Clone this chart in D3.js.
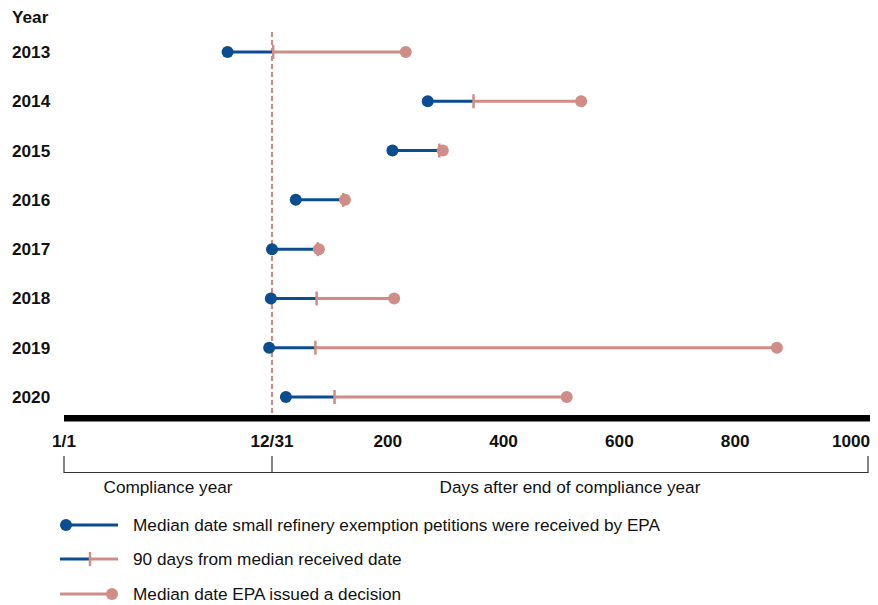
<!DOCTYPE html>
<html>
<head>
<meta charset="utf-8">
<script src="https://d3js.org/d3.v7.min.js"></script>
<style>
  body { margin: 0; background: #fff; }
  text { font-family: "Liberation Sans", Arial, sans-serif; fill: #111; }
</style>
</head>
<body>
<svg id="chart"></svg>
<script>
// Values in days relative to end of compliance year (12/31 = 0)
const years = ["2013", "2014", "2015", "2016", "2017", "2018", "2019", "2020"];
const received = [-78, 269, 208, 41, 0, -2, -5, 24];
const ninetyDays = [2, 348, 289, 123, 79, 77, 75, 108];
const decision = [231, 534, 295, 126, 81, 211, 872, 509];

const tickValues = [-365, 0, 200, 400, 600, 800, 1000];
const tickLabels = ["1/1", "12/31", "200", "400", "600", "800", "1000"];

const legendLabels = [
    "Median date small refinery exemption petitions were received by EPA",
    "90 days from median received date",
    "Median date EPA issued a decision"
];

const blue = "#0b4d8f";
const pink = "#d08c86";
const fs = 17.2;

const width = 878, height = 605;
const svg = d3.select("#chart").attr("width", width).attr("height", height);

// compliance year is drawn a bit narrower than days after
const x = d3.scaleLinear()
    .domain([-365, 0, 1000])
    .range([64, 272, 851]);

const y = d3.scalePoint()
    .domain(years)
    .range([52, 397]);

// Year column
svg.append("text")
    .attr("x", 12).attr("y", 23)
    .attr("font-size", fs).attr("font-weight", "bold")
    .text("Year");

svg.append("g").selectAll("text")
    .data(years)
    .enter().append("text")
    .attr("x", 12)
    .attr("y", d => y(d) + 6)
    .attr("font-size", fs).attr("font-weight", "bold")
    .text(d => d);

// dashed line at end of compliance year
svg.append("line")
    .attr("x1", x(0)).attr("x2", x(0))
    .attr("y1", 32).attr("y2", 415)
    .attr("stroke", pink).attr("stroke-width", 2.2)
    .attr("stroke-dasharray", "5,3");

const rows = years.map((yr, i) => ({
    year: yr, rec: received[i], tick: ninetyDays[i], dec: decision[i]
}));

const g = svg.append("g");

// pink segment: 90 days mark -> decision
g.selectAll(".pinkline")
    .data(rows)
    .enter().append("line")
    .attr("x1", d => x(d.tick)).attr("x2", d => x(d.dec))
    .attr("y1", d => y(d.year)).attr("y2", d => y(d.year))
    .attr("stroke", pink).attr("stroke-width", 3);

// blue segment: received -> 90 days
g.selectAll(".blueline")
    .data(rows)
    .enter().append("line")
    .attr("x1", d => x(d.rec)).attr("x2", d => x(d.tick))
    .attr("y1", d => y(d.year)).attr("y2", d => y(d.year))
    .attr("stroke", blue).attr("stroke-width", 3);

// decision dots
g.selectAll(".dec")
    .data(rows)
    .enter().append("circle")
    .attr("cx", d => x(d.dec)).attr("cy", d => y(d.year))
    .attr("r", 6).attr("fill", pink);

// 90 day tick
g.selectAll(".tick90")
    .data(rows)
    .enter().append("line")
    .attr("x1", d => x(d.tick)).attr("x2", d => x(d.tick))
    .attr("y1", d => y(d.year) - 7).attr("y2", d => y(d.year) + 7)
    .attr("stroke", pink).attr("stroke-width", 2.5);

// received dots
g.selectAll(".rec")
    .data(rows)
    .enter().append("circle")
    .attr("cx", d => x(d.rec)).attr("cy", d => y(d.year))
    .attr("r", 6).attr("fill", blue);

// thick axis bar
svg.append("rect")
    .attr("x", x(-365)).attr("y", 415)
    .attr("width", 870 - x(-365)).attr("height", 6.5)
    .attr("fill", "#000");

svg.append("g").selectAll("text")
    .data(tickValues)
    .enter().append("text")
    .attr("x", d => x(d))
    .attr("y", 447)
    .attr("text-anchor", "middle")
    .attr("font-size", fs).attr("font-weight", "bold")
    .text((d, i) => tickLabels[i]);

// bracket under the axis
const bracket = [x(-365), x(0), 868];
svg.append("path")
    .attr("d", `M${bracket[0]},456V472.5H${bracket[2]}V456M${bracket[1]},456V472.5`)
    .attr("fill", "none").attr("stroke", "#333").attr("stroke-width", 1.2);

svg.append("text")
    .attr("x", (bracket[0] + bracket[1]) / 2).attr("y", 493)
    .attr("text-anchor", "middle").attr("font-size", fs)
    .text("Compliance year");
svg.append("text")
    .attr("x", (bracket[1] + bracket[2]) / 2).attr("y", 493)
    .attr("text-anchor", "middle").attr("font-size", fs)
    .text("Days after end of compliance year");

// Legend
const legY = [525, 559, 594];
const leg = svg.append("g");

leg.append("line").attr("x1", 66).attr("x2", 118).attr("y1", legY[0]).attr("y2", legY[0])
    .attr("stroke", blue).attr("stroke-width", 3);
leg.append("circle").attr("cx", 66).attr("cy", legY[0]).attr("r", 6).attr("fill", blue);

leg.append("line").attr("x1", 60).attr("x2", 90).attr("y1", legY[1]).attr("y2", legY[1])
    .attr("stroke", blue).attr("stroke-width", 3);
leg.append("line").attr("x1", 90).attr("x2", 118).attr("y1", legY[1]).attr("y2", legY[1])
    .attr("stroke", pink).attr("stroke-width", 3);
leg.append("line").attr("x1", 90).attr("x2", 90).attr("y1", legY[1] - 7).attr("y2", legY[1] + 7)
    .attr("stroke", pink).attr("stroke-width", 2.5);

leg.append("line").attr("x1", 60).attr("x2", 112).attr("y1", legY[2]).attr("y2", legY[2])
    .attr("stroke", pink).attr("stroke-width", 3);
leg.append("circle").attr("cx", 112).attr("cy", legY[2]).attr("r", 6).attr("fill", pink);

leg.selectAll("text")
    .data(legendLabels)
    .enter().append("text")
    .attr("x", 133)
    .attr("y", (d, i) => legY[i] + 6)
    .attr("font-size", fs)
    .text(d => d);
</script>
</body>
</html>
